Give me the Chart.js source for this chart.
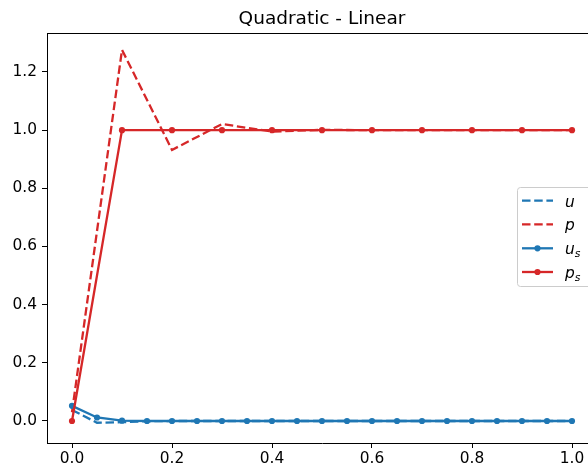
<!DOCTYPE html>
<html><head><meta charset="utf-8">
<script src="https://cdn.jsdelivr.net/npm/chart.js@4"></script>
<style>html,body{margin:0;padding:0;overflow:hidden;background:#fff}#wrap{position:absolute;left:0;top:0;width:620px;height:471px}</style>
</head><body><div id="wrap"><canvas id="c" width="620" height="471"></canvas></div>
<script>
const titleText = 'Quadratic - Linear';
const xFine = [0,0.05,0.1,0.15,0.2,0.25,0.3,0.35,0.4,0.45,0.5,0.55,0.6,0.65,0.7,0.75,0.8,0.85,0.9,0.95,1.0];
const xCoarse = [0,0.1,0.2,0.3,0.4,0.5,0.6,0.7,0.8,0.9,1.0];
const uValues = [0.038,-0.006,-0.004,-0.001,0,0,0,0,0,0,0,0,0,0,0,0,0,0,0,0,0];
const pValues = [0.03,1.276,0.932,1.021,0.995,1.001,1.0,1.0,1.0,1.0,1.0];
const usValues = [0.052,0.012,0.001,0,0,0,0,0,0,0,0,0,0,0,0,0,0,0,0,0,0];
const psValues = [0,1,1,1,1,1,1,1,1,1,1];
const xTicks = [0,0.2,0.4,0.6,0.8,1.0];
const yTicks = [0,0.2,0.4,0.6,0.8,1.0,1.2];
const labels = ['u','p','u_s','p_s'];

const BLUE = '#1f77b4', RED = '#d62728';
const DASH = [8.5,3.7];
const pts = (xs, ys) => xs.map((x,i)=>({x:x, y:ys[i]}));

const frame = {
  id:'frame',
  afterDraw(chart){
    const ctx = chart.ctx, a = chart.chartArea;
    ctx.save();
    ctx.strokeStyle = '#000'; ctx.lineWidth = 1;
    ctx.beginPath();
    ctx.moveTo(a.left, a.top+0.5); ctx.lineTo(a.right, a.top+0.5);
    ctx.moveTo(a.right-0.5, a.top); ctx.lineTo(a.right-0.5, a.bottom);
    ctx.stroke();
    // title, centred over the axes
    ctx.fillStyle = '#000';
    ctx.font = '18.5px "DejaVu Sans"';
    ctx.textAlign = 'center'; ctx.textBaseline = 'alphabetic';
    ctx.fillText(titleText, (a.left + a.right)/2, 24);
    // legend
    const bx = 517.5, by = 187.5, bw = 80, bh = 99, r = 3;
    ctx.beginPath();
    ctx.moveTo(bx+r, by); ctx.lineTo(bx+bw-r, by); ctx.arcTo(bx+bw, by, bx+bw, by+r, r);
    ctx.lineTo(bx+bw, by+bh-r); ctx.arcTo(bx+bw, by+bh, bx+bw-r, by+bh, r);
    ctx.lineTo(bx+r, by+bh); ctx.arcTo(bx, by+bh, bx, by+bh-r, r);
    ctx.lineTo(bx, by+r); ctx.arcTo(bx, by, bx+r, by, r);
    ctx.closePath();
    ctx.fillStyle = 'rgba(255,255,255,0.8)'; ctx.fill();
    ctx.strokeStyle = '#cccccc'; ctx.lineWidth = 1; ctx.stroke();
    const rows = [200.7, 224.3, 248.3, 272];
    const cols = [BLUE, RED, BLUE, RED];
    const dashed = [true, true, false, false];
    for (let i=0;i<4;i++){
      const y = rows[i];
      ctx.strokeStyle = cols[i]; ctx.lineWidth = 2.3;
      ctx.setLineDash(dashed[i] ? DASH : []);
      ctx.beginPath(); ctx.moveTo(522, y); ctx.lineTo(553, y); ctx.stroke();
      ctx.setLineDash([]);
      if (!dashed[i]){
        ctx.fillStyle = cols[i];
        ctx.beginPath(); ctx.arc(537.5, y, 3.1, 0, Math.PI*2); ctx.fill();
      }
      const parts = labels[i].split('_');
      ctx.fillStyle = '#000';
      ctx.textAlign = 'left'; ctx.textBaseline = 'alphabetic';
      ctx.font = 'italic 15.4px "DejaVu Sans"';
      ctx.fillText(parts[0], 565, y+6);
      if (parts[1]){
        const w = ctx.measureText(parts[0]).width;
        ctx.font = 'italic 10.8px "DejaVu Sans"';
        ctx.fillText(parts[1], 565+w, y+9);
      }
    }
    ctx.restore();
  }
};

new Chart(document.getElementById('c'), {
  type:'line',
  data:{datasets:[
    {label:labels[0], data:pts(xFine,uValues), borderColor:BLUE, backgroundColor:BLUE, borderWidth:2.3, borderDash:DASH, pointRadius:0, order:4},
    {label:labels[1], data:pts(xCoarse,pValues), borderColor:RED, backgroundColor:RED, borderWidth:2.3, borderDash:DASH, pointRadius:0, order:3},
    {label:labels[2], data:pts(xFine,usValues), borderColor:BLUE, backgroundColor:BLUE, borderWidth:2.3, pointRadius:3.1, pointBorderWidth:0, order:2},
    {label:labels[3], data:pts(xCoarse,psValues), borderColor:RED, backgroundColor:RED, borderWidth:2.3, pointRadius:3.1, pointBorderWidth:0, order:1}
  ]},
  options:{
    responsive:false, animation:false, devicePixelRatio:1,
    layout:{padding:{left:0,top:33,right:23,bottom:0}},
    plugins:{legend:{display:false}, title:{display:false}, tooltip:{enabled:false}},
    elements:{line:{tension:0}},
    scales:{
      x:{type:'linear', min:-0.05, max:1.05,
        afterBuildTicks(s){ s.ticks = xTicks.map(v=>({value:v})); },
        afterFit(s){ s.height = 28; },
        grid:{drawOnChartArea:false, drawTicks:true, tickLength:5, color:'#000', tickWidth:1},
        border:{display:true, color:'#000', width:1},
        ticks:{color:'#000', padding:2, maxRotation:0, font:{family:'DejaVu Sans', size:15.4}, callback:v=>v.toFixed(1)}
      },
      y:{type:'linear', min:-0.0757, max:1.334,
        afterBuildTicks(s){ s.ticks = yTicks.map(v=>({value:v})); },
        afterFit(s){ s.width = 47; },
        grid:{drawOnChartArea:false, drawTicks:true, tickLength:5, color:'#000', tickWidth:1},
        border:{display:true, color:'#000', width:1},
        ticks:{color:'#000', padding:5, font:{family:'DejaVu Sans', size:15.4}, callback:v=>v.toFixed(1)}
      }
    }
  },
  plugins:[frame]
});
</script></body></html>
